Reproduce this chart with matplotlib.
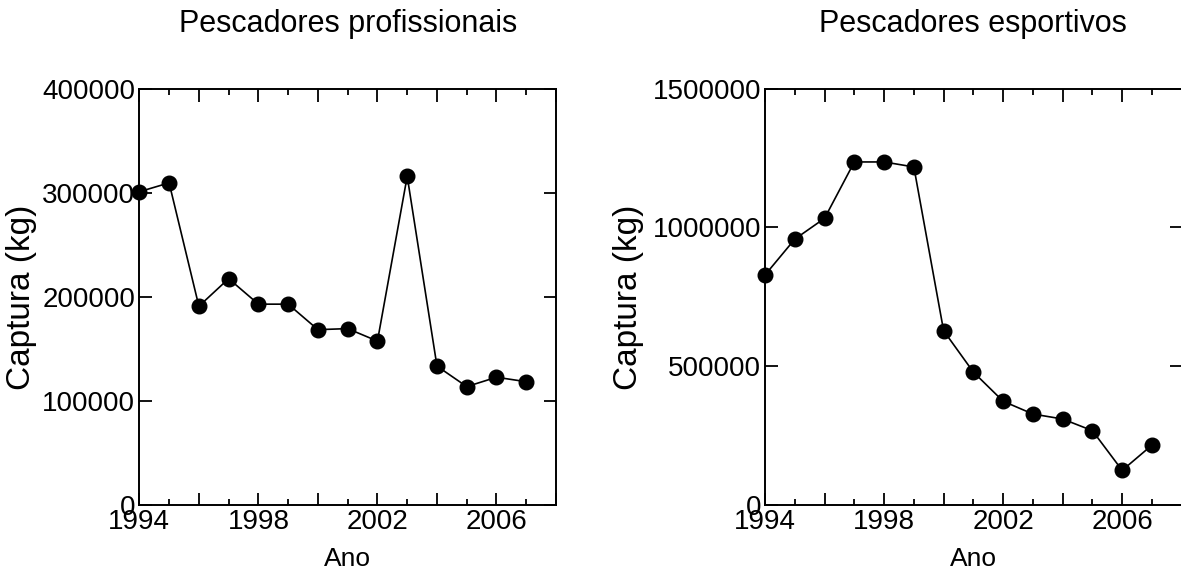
#!/usr/bin/env python3

import matplotlib
matplotlib.use("Agg")
import matplotlib.pyplot as plt
from matplotlib.ticker import FixedLocator, FixedFormatter, MultipleLocator

plt.rcParams['font.family'] = ['Liberation Sans', 'DejaVu Sans']

anos = list(range(1994, 2008))
profissionais = [301000, 309500, 191000, 217500, 193000, 193000, 168500,
                 169500, 157500, 315800, 133500, 113800, 122800, 118500]
esportivos = [829000, 958000, 1033000, 1236000, 1236000, 1218000, 628000,
              479000, 374000, 328000, 310000, 268000, 125000, 216000]

titulos = ["Pescadores profissionais", "Pescadores esportivos"]
x_ticks = [1994, 1996, 1998, 2000, 2002, 2004, 2006, 2008]
x_labels = ["1994", "", "1998", "", "2002", "", "2006", ""]
y_ticks_prof = [0, 100000, 200000, 300000, 400000]
y_ticks_esp = [0, 500000, 1000000, 1500000]


def desenha(ax, valores, titulo, yticks, ylab_x):
    ax.plot(anos, valores, color="black", linewidth=1.2, marker="o",
            markersize=10.5, markerfacecolor="black", clip_on=False, zorder=3)
    ax.set_xlim(1994, 2008)
    ax.set_ylim(0, yticks[-1])
    ax.xaxis.set_major_locator(FixedLocator(x_ticks))
    ax.xaxis.set_major_formatter(FixedFormatter(x_labels))
    ax.xaxis.set_minor_locator(MultipleLocator(1))
    ax.yaxis.set_major_locator(FixedLocator(yticks))
    ax.yaxis.set_major_formatter(FixedFormatter([str(v) for v in yticks]))
    ax.tick_params(which="both", direction="in", top=True, right=True,
                   width=1.3, labelsize=20, colors="black")
    ax.tick_params(which="major", length=9, pad=3)
    ax.tick_params(which="minor", length=4.5)
    ax.tick_params(axis="y", which="major", length=9, pad=3)
    for sp in ax.spines.values():
        sp.set_linewidth(1.4)
    ax.set_title(titulo, fontsize=22, pad=41)
    ax.set_xlabel("Ano", fontsize=19)
    ax.set_ylabel("Captura (kg)", fontsize=24)
    ax.xaxis.set_label_coords(0.5, -0.1)
    ax.yaxis.set_label_coords(ylab_x, 0.5)


fig = plt.figure(figsize=(11.81, 5.72), dpi=100)
ax1 = fig.add_axes([0.118, 0.117, 0.3528, 0.728])
ax2 = fig.add_axes([0.6478, 0.117, 0.3528, 0.728])

desenha(ax1, profissionais, titulos[0], y_ticks_prof, -0.245)
desenha(ax2, esportivos, titulos[1], y_ticks_esp, -0.29)

plt.savefig("out.png", dpi=100)
